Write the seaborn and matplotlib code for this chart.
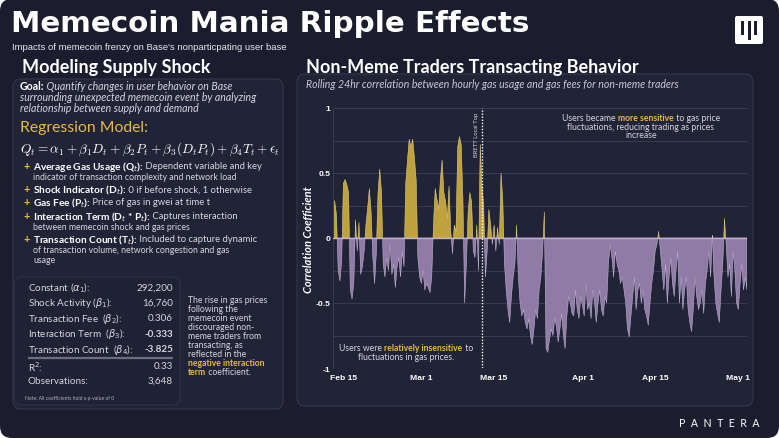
import numpy as np
import pandas as pd
import matplotlib
matplotlib.use("Agg")
import matplotlib.pyplot as plt
from matplotlib.patches import FancyBboxPatch, Rectangle
import seaborn as sns

W, H = 779, 439

BG = "#1b1c2d"
PANEL = "#212337"
EDGE = "#34364c"
GOLD = "#e3b94f"
YELLOW_FILL = "#bfa13e"
PURPLE_FILL = "#8f7ba5"
PURPLE_EDGE = "#c0afd1"
GRID = "#393b51"
MUTED = "#d6d6de"

# rolling 24h correlation at 8-hour steps from Feb 13
corr = [
    0.30, 0.28, 0.18, -0.25, -0.33, -0.18, 0.42, 0.45, 0.41, 0.35, -0.40, -0.47,
    -0.35, 0.14, -0.10, 0.12, -0.28, -0.22, -0.10, 0.10, 0.23, 0.38, 0.20, -0.15,
    -0.35, -0.12, 0.35, 0.53, 0.35, -0.20, -0.30, -0.15, -0.25, -0.05, -0.28, -0.20,
    -0.38, -0.22, -0.15, -0.30, -0.10, -0.22, 0.42, 0.60, 0.76, 0.70, 0.76, 0.62,
    0.45, -0.15, -0.30, -0.35, -0.25, -0.40, -0.35, -0.38, -0.42, -0.30, 0.10, 0.38,
    0.30, 0.22, 0.45, 0.60, 0.35, 0.28, 0.15, 0.40, 0.05, -0.12, 0.10, 0.05,
    0.70, 0.78, 0.72, 0.30, -0.50, -0.20, 0.20, 0.35, 0.28, -0.10, -0.15, 0.10,
    -0.25, 0.72, 0.40, 0.25, -0.30, -0.10, 0.22, 0.10, -0.05, 0.10, -0.10, 0.08,
    -0.05, 0.50, 0.30, -0.20, -0.40, -0.55, -0.65, -0.45, -0.30, -0.20, 0.10, -0.30,
    -0.50, -0.60, -0.55, -0.65, -0.70, -0.62, -0.75, -0.82, -0.70, -0.55, -0.62, -0.40,
    -0.30, -0.10, 0.20, -0.85, -0.88, -0.78, -0.70, -0.75, -0.62, -0.68, -0.80, -0.70,
    -0.58, -0.75, -0.85, -0.60, -0.45, -0.50, -0.58, -0.60, -0.40, -0.55, -0.62, -0.45,
    -0.52, -0.60, -0.35, -0.55, -0.50, -0.62, -0.40, -0.50, -0.65, -0.50, -0.40, -0.55,
    -0.60, -0.45, -0.50, -0.20, -0.05, -0.15, -0.30, -0.10, -0.20, -0.25, -0.35, -0.30,
    -0.40, -0.50, -0.70, -0.76, -0.60, -0.45, -0.30, -0.55, -0.40, -0.35, -0.50, -0.40,
    -0.55, -0.60, -0.67, -0.50, -0.35, -0.25, -0.10, -0.05, 0.05, -0.10, -0.25, -0.40,
    -0.20, -0.50, -0.30, -0.15, -0.35, -0.45, -0.25, -0.10, -0.50, -0.30, -0.55, -0.40,
    -0.30, -0.55, -0.65, -0.72, -0.55, -0.30, -0.45, -0.55, -0.50, -0.40, -0.58, -0.35,
    -0.25, -0.10, -0.30, 0.02, -0.30, -0.50, -0.58, -0.65, -0.40, -0.20, 0.15, -0.05,
    -0.30, -0.20, -0.45, -0.10, -0.25, -0.50, -0.55, -0.35, -0.20, -0.40, -0.30, -0.40,
]
series_start = "2024-02-13 00:00"
series_step = "8h"

xtick_dates = ["2024-02-15", "2024-03-01", "2024-03-15", "2024-04-01", "2024-04-15", "2024-05-01"]
xtick_labels = ["Feb 15", "Mar 1", "Mar 15", "Apr 1", "Apr 15", "May 1"]
ytick_values = [-1, -0.5, 0, 0.5, 1]
ytick_labels = ["-1", "-0.5", "0", "0.5", "1"]
event_date = "2024-03-12 16:00"
event_label = "BRETT Local Top"

coef_names = ["Constant ($\\alpha_1$):", "Shock Activity ($\\beta_1$):",
              "Transaction Fee  ($\\beta_2$):", "Interaction Term  ($\\beta_3$):",
              "Transaction Count  ($\\beta_4$):"]
coef_values = ["292,200", "16,760", "0.306", "-0.333", "-3.825"]
fit_names = ["R$^2$:", "Observations:"]
fit_values = ["0.33", "3,648"]

sns.set_theme(style="dark")
plt.rcParams["font.family"] = ["Lato", "DejaVu Sans"]
BODY = ["Lato", "DejaVu Sans"]
WIDE = ["DejaVu Sans"]
NARROW = ["Liberation Sans Narrow", "Liberation Sans", "DejaVu Sans"]

fig = plt.figure(figsize=(W / 100, H / 100), dpi=100, facecolor="white")
bg = fig.add_axes([0, 0, 1, 1])
bg.set_xlim(0, W)
bg.set_ylim(H, 0)
bg.axis("off")
renderer = fig.canvas.get_renderer()


def panel(axis, x, y, w, h, face=PANEL, edge=EDGE, r=8, lw=0.8):
    axis.add_patch(FancyBboxPatch((x, y), w, h, boxstyle=f"round,pad=0,rounding_size={r}",
                                  facecolor=face, edgecolor=edge, lw=lw))


def text_width(axis, s, **kw):
    t = axis.text(0, 0, "|" + s + "|", **kw)
    w1 = t.get_window_extent(renderer).width
    t.remove()
    t = axis.text(0, 0, "||", **kw)
    w2 = t.get_window_extent(renderer).width
    t.remove()
    return w1 - w2


def rich(axis, x, y, parts, size, ha="left", family=BODY):
    """parts: (text, color, weight, style[, size]) drawn one after another on one line"""
    kws = [dict(fontsize=p[4] if len(p) > 4 else size, color=p[1], fontweight=p[2],
                fontstyle=p[3], family=family) for p in parts]
    widths = [text_width(axis, p[0], **kw) for p, kw in zip(parts, kws)]
    if ha == "center":
        x -= sum(widths) / 2
    for p, kw, wd in zip(parts, kws, widths):
        axis.text(x, y, p[0], va="center", ha="left", **kw)
        x += wd


# outer card
bg.add_patch(FancyBboxPatch((0, 0), W, H, boxstyle="round,pad=0,rounding_size=12",
                            facecolor=BG, edgecolor="none"))

# header
bg.text(11, 24, "Memecoin Mania Ripple Effects", fontsize=21.2, fontweight="bold",
        color="white", va="center", family=WIDE)
bg.text(12, 47, "Impacts of memecoin frenzy on Base's nonparticpating user base",
        fontsize=6.8, color="#e8e8ee", va="center", family=NARROW)
bg.add_patch(FancyBboxPatch((735, 17), 28, 28, boxstyle="round,pad=0,rounding_size=2",
                            facecolor="white", edgecolor="none"))
for bx, top_y, bot_y in [(741.5, 22, 36), (748, 22, 41), (754.5, 22, 36)]:
    bg.add_patch(Rectangle((bx, top_y), 2.6, bot_y - top_y, facecolor=BG, edgecolor="none"))

# left column
bg.text(22, 68, "Modeling Supply Shock", fontsize=13, fontweight="bold", color="white",
        va="center", family=BODY)
panel(bg, 13, 80, 270, 330)

G = 7.6
rich(bg, 20, 87, [("Goal:", "white", "bold", "normal"),
                  (" Quantify changes in user behavior on Base", MUTED, "normal", "italic")], G)
bg.text(20, 98, "surrounding unexpected memecoin event by analyzing", fontsize=G,
        fontstyle="italic", color=MUTED, va="center", family=BODY)
bg.text(20, 109, "relationship between supply and demand", fontsize=G,
        fontstyle="italic", color=MUTED, va="center", family=BODY)

bg.text(20, 128, "Regression Model:", fontsize=11.3, color=GOLD, va="center", family=BODY)
bg.text(20, 149, r"$Q_t = \alpha_1 + \beta_1 D_t + \beta_2 P_t + \beta_3(D_t P_t) + \beta_4 T_t + \epsilon_t$",
        fontsize=9.6, color="white", va="center", math_fontfamily="cm")

B = 6.3
bullets = [
    (167, "Average Gas Usage (Q$_t$):", " Dependent variable and key",
     ["indicator of transaction complexity and network load"]),
    (190, "Shock Indicator (D$_t$):", " 0 if before shock, 1 otherwise", []),
    (203, "Gas Fee (P$_t$):", " Price of gas in gwei at time t", []),
    (217, "Interaction Term (D$_t$ * P$_t$):", " Captures interaction",
     ["between memecoin shock and gas prices"]),
    (240, "Transaction Count (T$_t$):", " Included to capture dynamic",
     ["of transaction volume, network congestion and gas", "usage"]),
]
for y, head, rest, more in bullets:
    bg.text(24, y, "+", fontsize=8, color=GOLD, fontweight="bold", va="center", family=BODY)
    rich(bg, 33, y, [(head, "white", "bold", "normal", 7.3),
                     (rest, MUTED, "normal", "normal", 6.8)], B)
    for k, line in enumerate(more):
        bg.text(33, y + 10.5 * (k + 1), line, fontsize=B, color=MUTED, va="center", family=BODY)

# coefficient table
panel(bg, 14, 278, 166, 128, face="#1f2134", edge="#2f3146")
S = 7.1
for k, (name, val) in enumerate(zip(coef_names, coef_values)):
    y = 288 + 15.5 * k
    bg.text(28, y, name, fontsize=S, color=MUTED, va="center", family=BODY)
    bg.text(173, y, val, fontsize=S, color=MUTED, va="center", ha="right", family=BODY,
            fontweight="bold" if val.startswith("-") else "normal")
bg.plot([28, 173], [359, 359], color="#6d6f80", lw=1.6, solid_capstyle="butt")
for k, (name, val) in enumerate(zip(fit_names, fit_values)):
    y = 367 + 14.5 * k
    bg.text(28, y, name, fontsize=S, color=MUTED, va="center", family=BODY)
    bg.text(173, y, val, fontsize=S, color=MUTED, va="center", ha="right", family=BODY)
bg.text(25, 399, "Note: All coefficients hold a p-value of 0", fontsize=3.6, color="#b0b1bc",
        va="center", family=BODY)

side = ["The rise in gas prices", "following the", "memecoin event", "discouraged non-",
        "meme traders from", "transacting, as", "reflected in the"]
for k, line in enumerate(side):
    bg.text(188, 301 + 9 * k, line, fontsize=6.2, color=MUTED, va="center", family=BODY)
bg.text(188, 364, "negative interaction", fontsize=6.2, color=GOLD, fontweight="bold",
        va="center", family=BODY)
rich(bg, 188, 373, [("term", GOLD, "bold", "normal"), (" coefficient.", MUTED, "normal", "normal")], 6.2)

# right column
bg.text(306, 68, "Non-Meme Traders Transacting Behavior", fontsize=13, fontweight="bold",
        color="white", va="center", family=BODY)
panel(bg, 297, 75, 456, 332)
bg.text(306, 84, "Rolling 24hr correlation between hourly gas usage and gas fees for non-meme traders",
        fontsize=7.6, fontstyle="italic", color="#c8c9d2", va="center", family=BODY)
bg.text(309, 240, "Correlation Coefficient", fontsize=8, fontstyle="italic", fontweight="bold",
        color="white", rotation=90, va="center", ha="center", family=BODY)
bg.text(760, 424, "P  A  N  T  E  R  A", fontsize=7.6, color="white", va="center", ha="right",
        family=BODY)

# chart
df = pd.DataFrame({"time": pd.date_range(series_start, periods=len(corr), freq=series_step),
                   "corr": corr})
ax = fig.add_axes([333 / W, 1 - 369 / H, (747 - 333) / W, (369 - 109) / H])
ax.set_facecolor("none")
t = df["time"].values
v = df["corr"].values
ax.fill_between(t, v, 0, where=v >= 0, interpolate=True, facecolor=YELLOW_FILL,
                edgecolor="#dccb84", lw=0.4, zorder=2)
ax.fill_between(t, v, 0, where=v <= 0, interpolate=True, facecolor=PURPLE_FILL,
                edgecolor=PURPLE_EDGE, lw=0.4, zorder=2)
sns.lineplot(x=[df["time"].iloc[0], df["time"].iloc[-1]], y=[0, 0], ax=ax,
             color=PURPLE_EDGE, lw=1.0, zorder=3)
for g in np.arange(-1, 1.01, 0.25):
    ax.axhline(g, color=GRID, lw=0.7, zorder=1)
ax.axvline(pd.Timestamp(event_date), color="white", lw=1.0, ls=(0, (1, 1.2)), zorder=4)
ax.set_xlim(df["time"].iloc[0], df["time"].iloc[-1])
ax.set_ylim(-1, 1)
ax.set_xticks(pd.to_datetime(xtick_dates))
ax.set_xticklabels(xtick_labels)
ax.set_yticks(ytick_values)
ax.set_yticklabels(ytick_labels)
ax.tick_params(axis="both", length=0, labelsize=6.1, colors="white")
ax.tick_params(axis="x", pad=4)
ax.tick_params(axis="y", pad=2)
for lab in ax.get_xticklabels() + ax.get_yticklabels():
    lab.set_family(NARROW)
    lab.set_fontweight("bold")
for side_name in ["top", "right", "bottom"]:
    ax.spines[side_name].set_visible(False)
ax.spines["left"].set_color(GRID)
ax.spines["left"].set_linewidth(0.7)
ax.grid(False)
ax.set_xlabel("")
ax.set_ylabel("")

# annotations above the chart
top = fig.add_axes([0, 0, 1, 1], facecolor="none")
top.set_xlim(0, W)
top.set_ylim(H, 0)
top.axis("off")
top.text(477, 113, event_label, fontsize=4.2, color="#d8d8e0", rotation=90, va="top",
         ha="center", family=BODY)
A = 6.2
rich(top, 641, 119, [("Users became ", MUTED, "normal", "normal"),
                     ("more sensitive", GOLD, "bold", "normal"),
                     (" to gas price", MUTED, "normal", "normal")], A, ha="center")
top.text(641, 127.5, "fluctuations, reducing trading as prices", fontsize=A, color=MUTED,
         va="center", ha="center", family=BODY)
top.text(641, 136, "increase", fontsize=A, color=MUTED, va="center", ha="center", family=BODY)
rich(top, 406, 349, [("Users were ", MUTED, "normal", "normal"),
                     ("relatively insensitive", GOLD, "bold", "normal"),
                     (" to", MUTED, "normal", "normal")], A, ha="center")
top.text(406, 357.5, "fluctuations in gas prices.", fontsize=A, color=MUTED, va="center",
         ha="center", family=BODY)

fig.savefig("out.png", dpi=100, facecolor=fig.get_facecolor())
